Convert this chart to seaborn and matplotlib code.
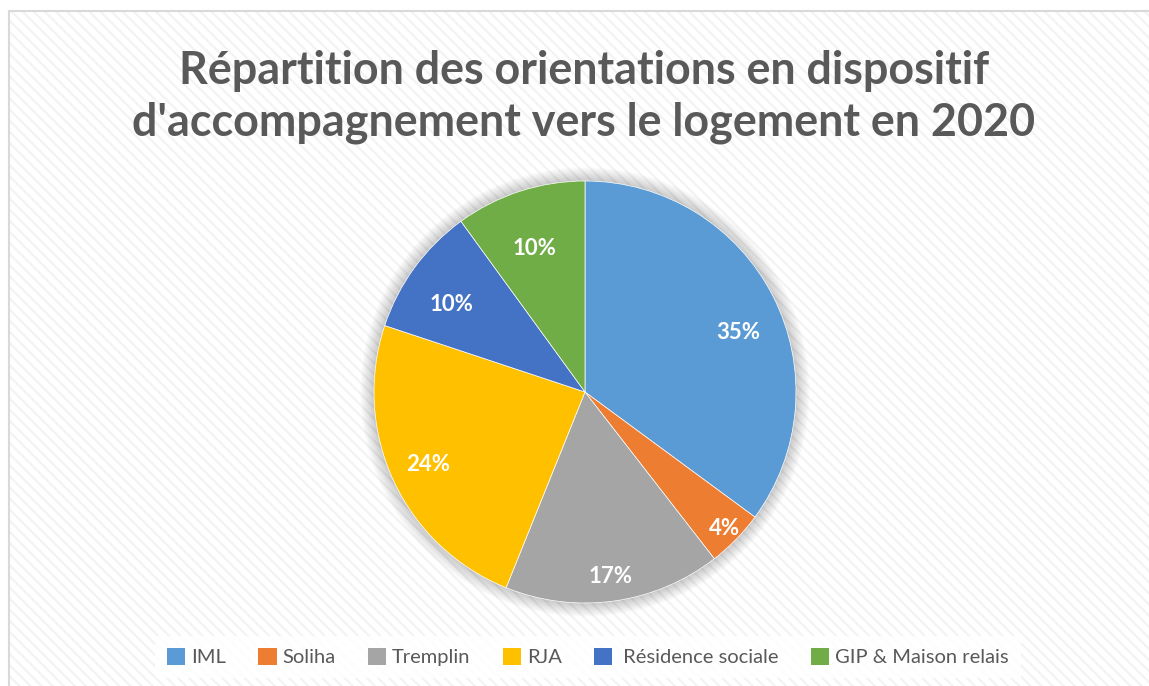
import matplotlib
matplotlib.use("Agg")
import matplotlib.pyplot as plt
import seaborn as sns
import numpy as np
from matplotlib.patches import Rectangle, Circle, Patch

# ---- data ----
categories = ["IML", "Soliha", "Tremplin", "RJA", " Résidence sociale", "GIP & Maison relais"]
shares = [35.1, 4.4, 16.6, 24.0, 9.9, 10.0]
colors = ["#5B9BD5", "#ED7D31", "#A5A5A5", "#FFC000", "#4472C4", "#70AD47"]
title = "Répartition des orientations en dispositif\nd'accompagnement vers le logement en 2020"

# per-label placement (style): radial distance and angular shift (degrees, clockwise)
label_dist = [0.78, 0.925, 0.885, 0.82, 0.755, 0.72]
label_shift = [5.5, 0, 0, 0, -3, -1.5]

sns.set_theme(style="white")
plt.rcParams["font.family"] = ["Lato", "DejaVu Sans"]
plt.rcParams["hatch.linewidth"] = 1.6

W, H = 1149, 686
fig = plt.figure(figsize=(W / 100, H / 100), dpi=100)
fig.patch.set_facecolor("white")

# striped background
bg = Rectangle((9 / W, 0), 1, 1 - 11 / H, transform=fig.transFigure,
               facecolor="white", edgecolor="#F3F3F3", hatch="\\\\\\", linewidth=0, zorder=-2)
fig.patches.append(bg)
border = Rectangle((9 / W, -0.01), 1.1, 1.01 - 11 / H, transform=fig.transFigure,
                   facecolor="none", edgecolor="#D9D9D9", linewidth=1.5, zorder=-1)
fig.patches.append(border)

# pie axes
cx, cy, r = 585, 392, 211
ax = fig.add_axes([(cx - r) / W, (H - cy - r) / H, 2 * r / W, 2 * r / H])
ax.set_zorder(2)
ax.patch.set_alpha(0)

# soft shadow
for i in range(14):
    ax.add_patch(Circle((0, 0), 1.0 + 0.005 * i, facecolor="black", alpha=0.016,
                        edgecolor="none", clip_on=False, zorder=0))

wedges, texts, autotexts = ax.pie(
    shares, colors=colors, startangle=90, counterclock=False,
    autopct="%.0f%%", pctdistance=0.8, radius=1,
    wedgeprops=dict(linewidth=0.5, edgecolor="white"),
    textprops=dict(color="white", fontsize=16, fontweight="bold"),
)
ax.set_xlim(-1, 1)
ax.set_ylim(-1, 1)
ax.set_aspect("equal")
ax.axis("off")
for w in wedges:
    w.set_zorder(2)
total = sum(shares)
cum = 0
for t, s, d, sh in zip(autotexts, shares, label_dist, label_shift):
    mid = 90 - (cum + s / 2) / total * 360 - sh
    cum += s
    t.set_position((d * np.cos(np.radians(mid)), d * np.sin(np.radians(mid))))
    t.set_zorder(3)

# title
fig.text(584 / W, 1 - 97 / H, title, ha="center", va="center", fontsize=32.3,
         fontweight="bold", color="#595959", linespacing=1.3, zorder=3)

# legend
handles = [Patch(facecolor=c, edgecolor="none") for c in colors]
leg = fig.legend(handles, categories, loc="center", bbox_to_anchor=(588 / W, 1 - 657 / H),
                 ncol=6, frameon=True, fontsize=14.5, handlelength=0.9, handleheight=0.9,
                 handletextpad=0.3, columnspacing=1.6, borderpad=0.6)
leg.set_zorder(5)
leg.get_frame().set_facecolor("white")
leg.get_frame().set_edgecolor("none")
leg.get_frame().set_alpha(0.85)
leg.get_frame().set_boxstyle("square", pad=0)
for t in leg.get_texts():
    t.set_color("#595959")

fig.savefig("out.png", dpi=100)
